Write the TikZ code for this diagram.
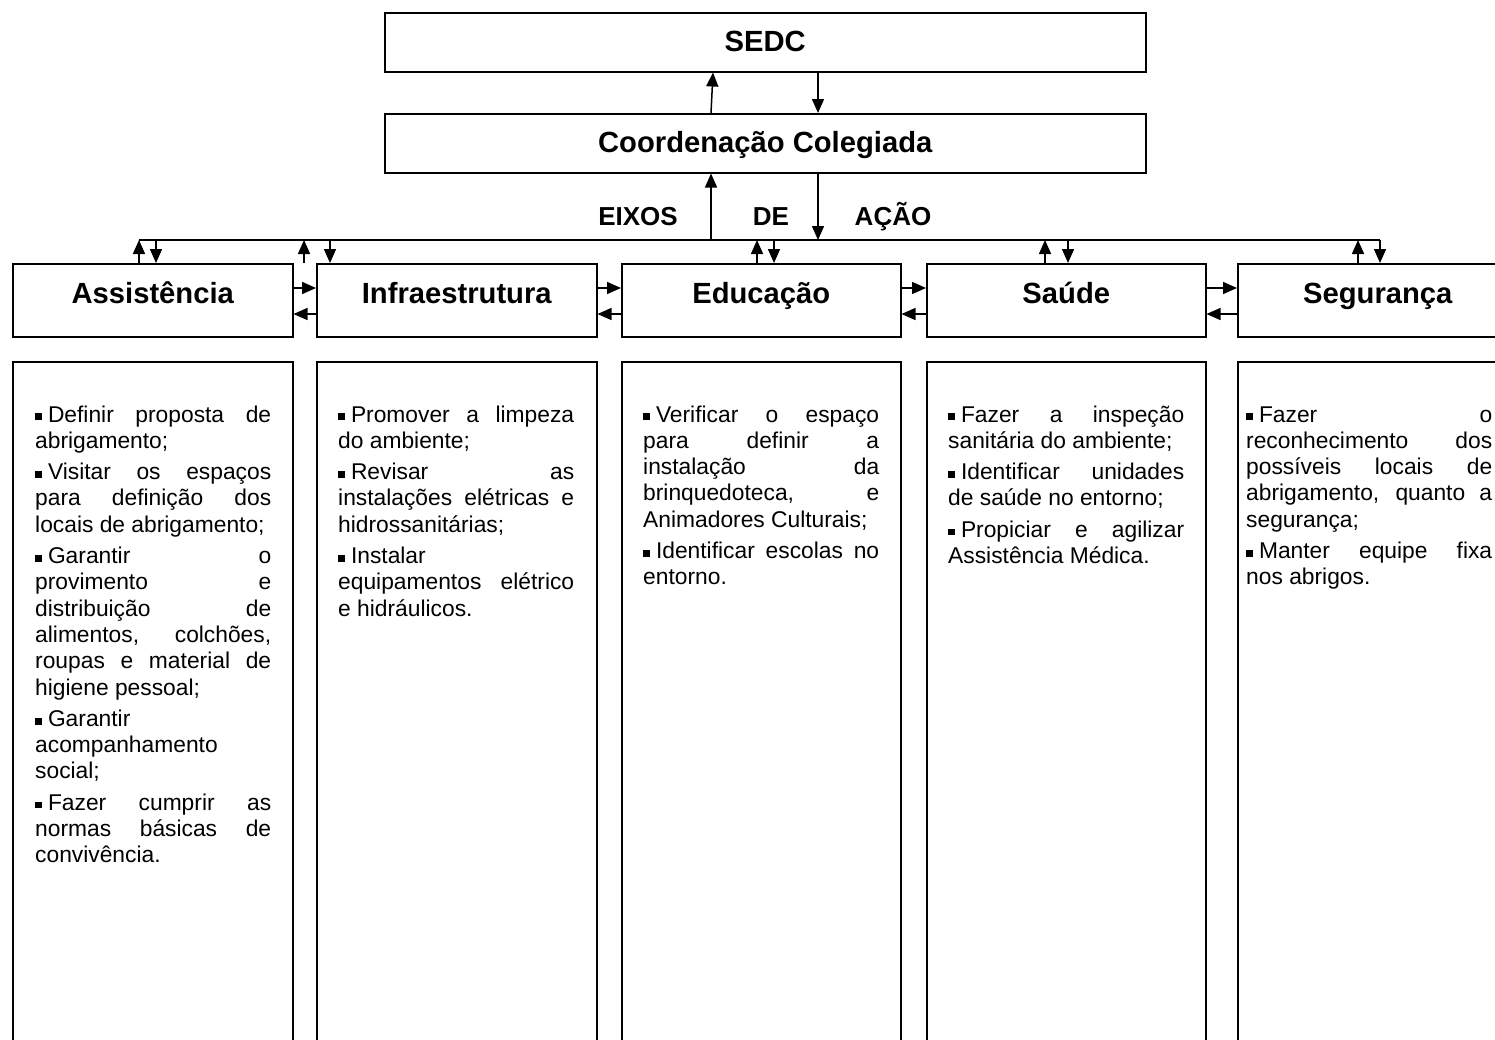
\documentclass[tikz,border=0pt]{standalone}
\usepackage{fontspec}
\setmainfont{Liberation Sans}
\usetikzlibrary{arrows.meta,calc}

% small square bullet followed by a rigid gap
\newcommand\bul{\rule[1.8pt]{6.8pt}{6.8pt}\hspace{6pt}}
% justified line, left line inside a paragraph, last line of a paragraph, final line
\newcommand\jline[1]{\makebox[\linewidth][s]{#1}\\}
\newcommand\fline[1]{\makebox[\linewidth][l]{#1}\\}
\newcommand\pline[1]{\makebox[\linewidth][l]{#1}\\[5pt]}
\newcommand\lastline[1]{\makebox[\linewidth][l]{#1}}
\newenvironment{actions}[1][236pt]{\begin{minipage}[t]{#1}\fontsize{22.8}{26.3}\selectfont\setlength{\parindent}{0pt}}{\end{minipage}}

\tikzset{
  frame/.style={draw, line width=1.5pt, rectangle, inner sep=0pt, anchor=north west},
  headbox/.style={frame, minimum width=761pt, minimum height=59pt,
    text height=21pt, text depth=2pt, font=\fontsize{29.2}{34}\selectfont\bfseries},
  axisbox/.style={frame, minimum width=280pt, minimum height=73pt,
    text height=21pt, text depth=14pt, font=\fontsize{29.2}{34}\selectfont\bfseries},
  listbox/.style={frame, minimum width=280pt, minimum height=720pt},
  listtext/.style={anchor=base west, inner sep=0pt},
  axislabel/.style={anchor=base, inner sep=0pt, font=\fontsize{26}{30}\selectfont\bfseries},
  link/.style={line width=1.5pt},
  conn/.style={line width=1.5pt, -{Triangle[length=14pt,width=12pt]}},
}

\begin{document}
\begin{tikzpicture}[x=1pt,y=-1pt]
\useasboundingbox (0,0) rectangle (1495,1039);
\clip (0,0) rectangle (1495,1039);

% top of the hierarchy
\node[headbox] (sedc)  at (384,12)  {SEDC};
\node[headbox] (coord) at (384,113) {Coordenação Colegiada};

\draw[conn] ($(coord.north west)+(327,0)$) -- ($(sedc.south west)+(329,0)$);
\draw[conn] ($(sedc.south west)+(434,0)$) -- ($(coord.north west)+(434,0)$);

% distribution bus
\coordinate (busL) at (139,240);
\coordinate (busR) at (1380,240);
\draw[link] (busL) -- (busR);

\path (coord.south west) ++(327,0) coordinate (cu) ++(107,0) coordinate (cd);
\draw[conn] (cu |- busL) -- (cu);
\draw[conn] (cd) -- (cd |- busL);

\node[axislabel] (eixos) at (638,225) {EIXOS};
\node[axislabel] (de)    at (771,225) {DE};
\node[axislabel] (acao)  at (893,225) {AÇÃO};

% action axes
\node[axisbox] (ass)   at (12,263)   {Assistência};
\node[axisbox] (infra) at (316,263)  {Infraestrutura};
\node[axisbox, minimum width=279pt] (edu)   at (621,263)  {Educação};
\node[axisbox, minimum width=279pt] (sau)   at (926,263)  {Saúde};
\node[axisbox] (seg)   at (1237,263) {Segurança};

% links between each axis and the bus
\foreach \b/\u/\d in {ass/127/144, infra/-12/14, edu/136/153, sau/119/142, seg/121/143}{
  \path (\b.north west) ++(\u,0) coordinate (up-\b);
  \path (\b.north west) ++(\d,0) coordinate (dn-\b);
  \draw[conn] (up-\b) -- (up-\b |- busL);
  \draw[conn] (dn-\b |- busL) -- (dn-\b);
}

% links between neighbouring axes
\foreach \a/\b in {ass/infra, infra/edu, edu/sau, sau/seg}{
  \draw[conn] ($(\a.north east)+(-2,25)$) -- ($(\b.north west)+(0,25)$);
  \draw[conn] ($(\b.north west)+(0,51)$) -- ($(\a.north east)+(0,51)$);
}

% action lists
\node[listbox] (assT)   at (12,361)   {};
\node[listbox] (infraT) at (316,361)  {};
\node[listbox, minimum width=279pt] (eduT)   at (621,361)  {};
\node[listbox, minimum width=279pt] (sauT)   at (926,361)  {};
\node[listbox] (segT)   at (1237,361) {};

\node[listtext] (assL) at ($(assT.north west)+(23,61)$) {\begin{actions}
\jline{\bul Definir proposta de}
\pline{abrigamento;}
\jline{\bul Visitar os espaços}
\jline{para definição dos}
\pline{locais de abrigamento;}
\jline{\bul Garantir o}
\jline{provimento e}
\jline{distribuição de}
\jline{alimentos, colchões,}
\jline{roupas e material de}
\pline{higiene pessoal;}
\fline{\bul Garantir}
\fline{acompanhamento}
\pline{social;}
\jline{\bul Fazer cumprir as}
\jline{normas básicas de}
\lastline{convivência.}
\end{actions}};

\node[listtext] (infraL) at ($(infraT.north west)+(22,61)$) {\begin{actions}
\jline{\bul Promover a limpeza}
\pline{do ambiente;}
\jline{\bul Revisar as}
\jline{instalações elétricas e}
\pline{hidrossanitárias;}
\fline{\bul Instalar}
\jline{equipamentos elétrico}
\lastline{e hidráulicos.}
\end{actions}};

\node[listtext] (eduL) at ($(eduT.north west)+(22,61)$) {\begin{actions}
\jline{\bul Verificar o espaço}
\jline{para definir a}
\jline{instalação da}
\jline{brinquedoteca, e}
\pline{Animadores Culturais;}
\jline{\bul Identificar escolas no}
\lastline{entorno.}
\end{actions}};

\node[listtext] (sauL) at ($(sauT.north west)+(22,61)$) {\begin{actions}
\jline{\bul Fazer a inspeção}
\pline{sanitária do ambiente;}
\jline{\bul Identificar unidades}
\pline{de saúde no entorno;}
\jline{\bul Propiciar e agilizar}
\lastline{Assistência Médica.}
\end{actions}};

\node[listtext] (segL) at ($(segT.north west)+(9,61)$) {\begin{actions}[246pt]
\jline{\bul Fazer o}
\jline{reconhecimento dos}
\jline{possíveis locais de}
\jline{abrigamento, quanto a}
\pline{segurança;}
\jline{\bul Manter equipe fixa}
\lastline{nos abrigos.}
\end{actions}};
\end{tikzpicture}
\end{document}
